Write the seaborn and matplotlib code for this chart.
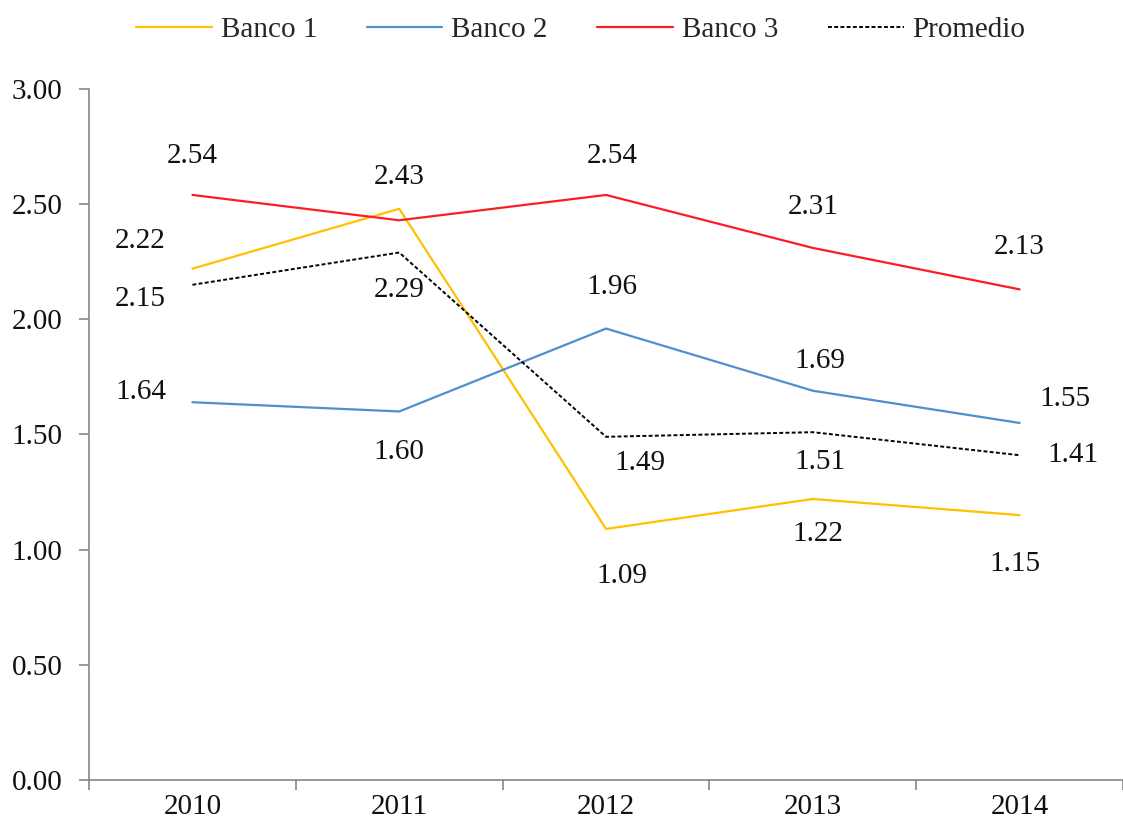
import matplotlib
matplotlib.use("Agg")
import matplotlib.pyplot as plt
import seaborn as sns
import pandas as pd
from matplotlib.ticker import FixedLocator, FormatStrFormatter

years = ["2010", "2011", "2012", "2013", "2014"]
banco1 = [2.22, 2.48, 1.09, 1.22, 1.15]
banco2 = [1.64, 1.60, 1.96, 1.69, 1.55]
banco3 = [2.54, 2.43, 2.54, 2.31, 2.13]
promedio = [2.15, 2.29, 1.49, 1.51, 1.41]
series_names = ["Banco 1", "Banco 2", "Banco 3", "Promedio"]
show_label = {
    "Banco 1": [True, False, True, True, True],
    "Banco 2": [True, True, True, True, True],
    "Banco 3": [True, True, True, True, True],
    "Promedio": [True, True, True, True, True],
}

# label offsets in pixels (style only)
label_offsets = {
    "Banco 1": [(-52, 28), (0, 0), (16, -47), (5, -35), (-5, -49)],
    "Banco 2": [(-52, 10), (0, -41), (6, 42), (7, 30), (45, 24)],
    "Banco 3": [(0, 39), (0, 43), (6, 39), (0, 41), (0, 42)],
    "Promedio": [(-52, -14), (0, -37), (34, -26), (7, -30), (53, 0)],
}
colors = {"Banco 1": "#FFC000", "Banco 2": "#4F8FCF", "Banco 3": "#FA1E24", "Promedio": "#000000"}

values = {"Banco 1": banco1, "Banco 2": banco2, "Banco 3": banco3, "Promedio": promedio}
df = pd.DataFrame([
    {"year": y, "serie": s, "value": v}
    for s in series_names for y, v in zip(years, values[s])
])

FS = 21

sns.set_theme(style="white")
plt.rcParams["font.family"] = ["Liberation Serif", "DejaVu Serif"]

fig = plt.figure(figsize=(11.23, 8.31), dpi=100)
ax = fig.add_axes([0.0793, 0.0614, 0.9207, 0.8315])

for s in series_names:
    sub = df[df.serie == s]
    sns.lineplot(data=sub, x="year", y="value", ax=ax, color=colors[s],
                 linewidth=1.6 if s != "Promedio" else 1.4,
                 linestyle=(0, (2, 1.2)) if s == "Promedio" else "-",
                 label=s, sort=False)

for s in series_names:
    for i, v in enumerate(values[s]):
        if not show_label[s][i]:
            continue
        dx, dy = label_offsets[s][i]
        ax.annotate(f"{v:.2f}", (i, v), xytext=(dx, dy), textcoords="offset pixels",
                    ha="center", va="center", fontsize=FS, color="#111111")

ax.set_xlim(-0.5, 4.5)
ax.set_ylim(0, 3.0)
ax.set_yticks([0, 0.5, 1.0, 1.5, 2.0, 2.5, 3.0])
ax.yaxis.set_major_formatter(FormatStrFormatter("%.2f"))
ax.set_xticks(range(len(years)))
ax.set_xticklabels(years)
ax.xaxis.set_minor_locator(FixedLocator([-0.5, 0.5, 1.5, 2.5, 3.5, 4.5]))
ax.tick_params(axis="x", which="major", length=0, pad=10, labelsize=FS, colors="#111111")
ax.tick_params(axis="x", which="minor", bottom=True, length=7, width=1.2, color="#868686", direction="out")
ax.tick_params(axis="y", left=True, length=7, width=1.2, color="#868686", labelsize=FS, labelcolor="#111111", pad=12)
ax.set_xlabel("")
ax.set_ylabel("")
for side in ["top", "right"]:
    ax.spines[side].set_visible(False)
for side in ["left", "bottom"]:
    ax.spines[side].set_color("#868686")
    ax.spines[side].set_linewidth(1.2)

ax.get_legend().remove()
handles, labels = ax.get_legend_handles_labels()
fig.legend(handles, labels, loc="center", bbox_to_anchor=(0.517, 0.964), ncol=4,
           frameon=False, fontsize=FS, handlelength=2.6, columnspacing=1.7, handletextpad=0.3)

fig.savefig("out.png", dpi=100)
